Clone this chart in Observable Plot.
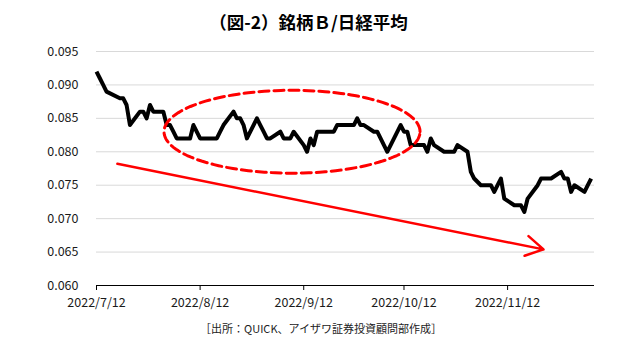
<!DOCTYPE html>
<html><head><meta charset="utf-8">
<script src="https://cdn.jsdelivr.net/npm/d3@7"></script>
<script src="https://cdn.jsdelivr.net/npm/@observablehq/plot@0.6"></script>
<style>
body{margin:0;background:#fff;}
#wrap{position:relative;width:640px;height:351px;font-family:"Noto Sans CJK JP","Noto Sans",sans-serif;color:#000;}
#chart{position:absolute;left:0;top:0;}
#title{position:absolute;left:0;width:617px;top:11px;text-align:center;font-size:17.5px;line-height:22px;font-weight:bold;}
#caption{position:absolute;left:0;width:642px;top:320px;text-align:center;font-size:11px;line-height:16px;color:#222;}
</style>
</head><body>
<div id="wrap">
<div id="chart"></div>
<div id="title">（図-2）銘柄Ｂ/日経平均</div>
<div id="caption">［出所：QUICK、アイザワ証券投資顧問部作成］</div>
</div>
<script>
const dates = [
"2022-07-12","2022-07-13","2022-07-14","2022-07-15","2022-07-19","2022-07-20","2022-07-21","2022-07-22",
"2022-07-25","2022-07-26","2022-07-27","2022-07-28","2022-07-29",
"2022-08-01","2022-08-02","2022-08-03","2022-08-04","2022-08-05",
"2022-08-08","2022-08-09","2022-08-10","2022-08-12",
"2022-08-15","2022-08-16","2022-08-17","2022-08-18","2022-08-19",
"2022-08-22","2022-08-23","2022-08-24","2022-08-25","2022-08-26",
"2022-08-29","2022-08-30","2022-08-31","2022-09-01","2022-09-02",
"2022-09-05","2022-09-06","2022-09-07","2022-09-08","2022-09-09",
"2022-09-12","2022-09-13","2022-09-14","2022-09-15","2022-09-16",
"2022-09-20","2022-09-21","2022-09-22",
"2022-09-26","2022-09-27","2022-09-28","2022-09-29","2022-09-30",
"2022-10-03","2022-10-04","2022-10-05","2022-10-06","2022-10-07",
"2022-10-11","2022-10-12","2022-10-13","2022-10-14",
"2022-10-17","2022-10-18","2022-10-19","2022-10-20","2022-10-21",
"2022-10-24","2022-10-25","2022-10-26","2022-10-27","2022-10-28",
"2022-10-31","2022-11-01","2022-11-02","2022-11-04",
"2022-11-07","2022-11-08","2022-11-09","2022-11-10","2022-11-11",
"2022-11-14","2022-11-15","2022-11-16","2022-11-17","2022-11-18",
"2022-11-21","2022-11-22","2022-11-24","2022-11-25",
"2022-11-28","2022-11-29","2022-11-30","2022-12-01","2022-12-02",
"2022-12-05","2022-12-06","2022-12-07"
];
const values = [
0.092,0.091,0.090,0.089,0.088,0.088,0.087,0.084,
0.086,0.086,0.085,0.087,0.086,
0.086,0.084,0.084,0.083,0.082,
0.082,0.082,0.084,0.082,
0.082,0.082,0.082,0.083,0.084,
0.086,0.085,0.085,0.084,0.082,
0.085,0.084,0.083,0.082,0.082,
0.083,0.082,0.082,0.082,0.083,
0.081,0.080,0.082,0.081,0.083,
0.083,0.083,0.084,
0.084,0.084,0.085,0.084,0.084,
0.083,0.083,0.082,0.081,0.080,
0.084,0.083,0.083,0.081,
0.081,0.081,0.080,0.082,0.081,
0.080,0.080,0.080,0.080,0.081,
0.080,0.077,0.076,0.075,
0.075,0.074,0.075,0.076,0.073,
0.072,0.072,0.072,0.071,0.073,
0.075,0.076,0.076,0.076,
0.077,0.076,0.076,0.074,0.075,
0.074,0.075,0.076
];
const yTicks = [0.060,0.065,0.070,0.075,0.080,0.085,0.090,0.095];
const xTicks = ["2022-07-12","2022-08-12","2022-09-12","2022-10-12","2022-11-12"];
const xDomain = ["2022-07-12","2022-12-08"];
// annotations (in data units)
const ellipseCenterDate = "2022-09-08T12:00:00Z";
const ellipseCenterValue = 0.083;
const ellipseRadiusDays = 38.3;
const ellipseRadiusValue = 0.0062;
const arrowStart = {date:"2022-07-18T06:00:00Z", value:0.0782};
const arrowEnd = {date:"2022-11-22T18:00:00Z", value:0.0654};

const data = dates.map((d,i)=>({date:new Date(d+"T00:00:00Z"), value:values[i]}));
const DAY = 864e5;
const c0 = new Date(ellipseCenterDate).getTime();
const ell = d3.range(0,145).map(i=>{const t=i/144*2*Math.PI;return {date:new Date(c0+Math.cos(t)*ellipseRadiusDays*DAY), value:ellipseCenterValue+Math.sin(t)*ellipseRadiusValue};});

const chart = Plot.plot({
  width:640, height:351,
  marginTop:51, marginBottom:66, marginLeft:96, marginRight:46,
  style:{fontFamily:'"Noto Sans CJK JP","Noto Sans",sans-serif', fontSize:"12.5px", color:"#1a1a1a", background:"transparent"},
  x:{type:"utc", domain:xDomain.map(d=>new Date(d+"T00:00:00Z"))},
  y:{domain:[0.06,0.095]},
  marks:[
    Plot.gridY(yTicks.slice(1), {stroke:"#d9d9d9", strokeOpacity:1, strokeWidth:1}),
    Plot.axisY(yTicks, {tickSize:0, tickPadding:18, tickFormat:d3.format(".3f"), label:null, fontSize:12.5}),
    Plot.ruleY([0.06], {stroke:"#000", strokeWidth:1}),
    Plot.axisX(xTicks.map(d=>new Date(d+"T00:00:00Z")), {tickSize:5, tickPadding:8, tickFormat:d3.utcFormat("%Y/%-m/%-d"), label:null, stroke:"#000", fontSize:12.5}),
    Plot.line(data, {x:"date", y:"value", stroke:"#000", strokeWidth:4, strokeLinejoin:"round", strokeLinecap:"butt"}),
    Plot.line(ell, {x:"date", y:"value", stroke:"#ff0000", strokeWidth:3, strokeDasharray:"10,5"}),
    Plot.arrow([{x1:new Date(arrowStart.date), y1:arrowStart.value, x2:new Date(arrowEnd.date), y2:arrowEnd.value}],
      {x1:"x1", y1:"y1", x2:"x2", y2:"y2", stroke:"#ff0000", strokeWidth:2.5, headLength:12})
  ]
});
document.getElementById("chart").appendChild(chart);
</script>
</body></html>
